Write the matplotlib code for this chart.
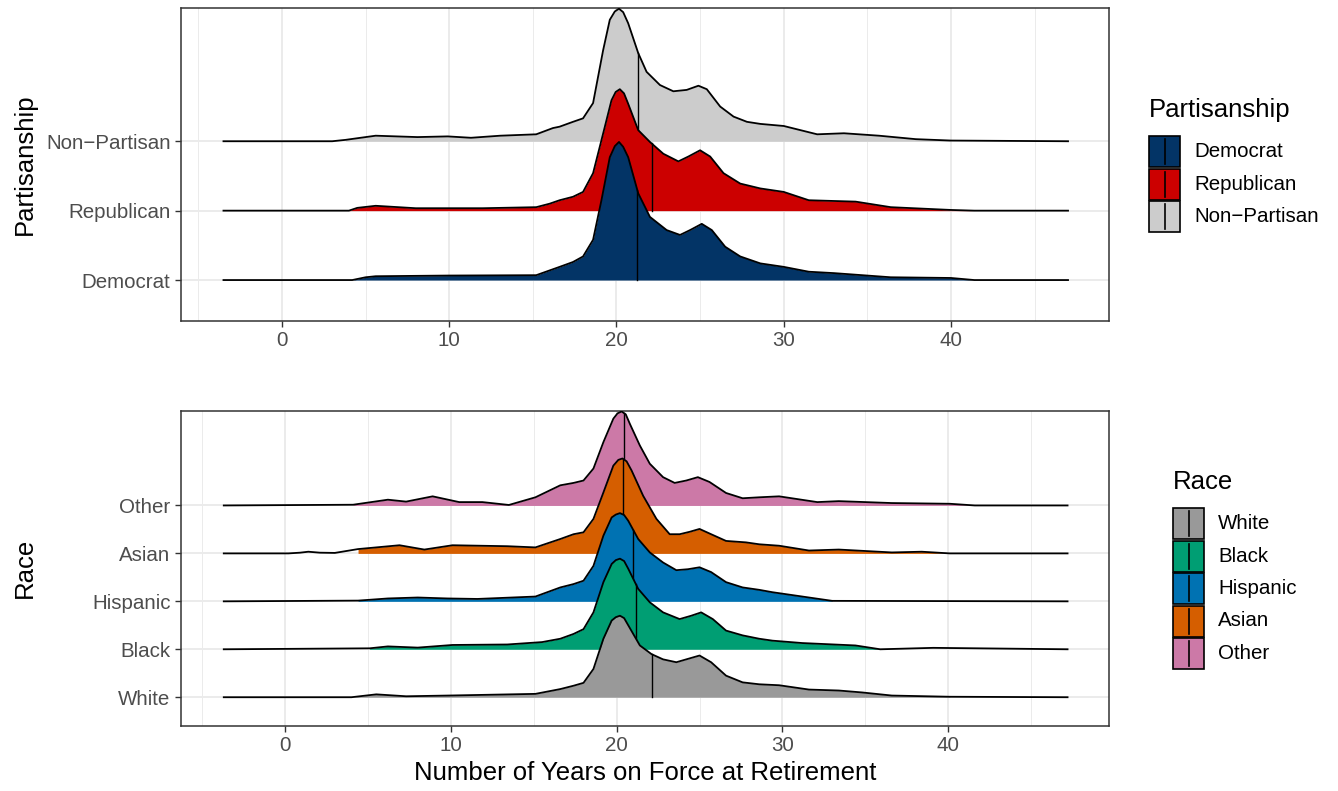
import matplotlib
matplotlib.use("Agg")
import matplotlib.pyplot as plt
from matplotlib.patches import Rectangle
from matplotlib.lines import Line2D
import numpy as np

plt.rcParams["font.family"] = ["Liberation Sans", "DejaVu Sans"]

# ---- data: density heights (in row units) ----
party_names = ["Democrat", "Republican", "Non\u2212Partisan"]
party_colors = ["#033466", "#CC0000", "#CCCCCC"]

dem_x = [-3.5, 4.2, 5.0, 5.6, 10, 15.2, 15.9, 16.6, 17.4, 18.0, 18.6, 19.1, 19.6,
         19.9, 20.15, 20.4, 20.7, 21.3, 22.0, 23.0, 23.8, 24.4, 25.1, 25.7, 26.5,
         27.4, 28.6, 30.0, 31.5, 33, 34.7, 36.4, 40.0, 41.4, 47.0]
dem_h = [0, 0, 0.04, 0.055, 0.065, 0.07, 0.13, 0.19, 0.26, 0.34, 0.58, 1.15, 1.77,
         1.93, 1.99, 1.92, 1.77, 1.25, 0.91, 0.72, 0.65, 0.72, 0.81, 0.72, 0.48,
         0.34, 0.24, 0.19, 0.12, 0.1, 0.07, 0.04, 0.03, 0, 0]

rep_x = [-3.5, 4.0, 4.5, 5.6, 8, 12, 15.2, 16.0, 16.6, 17.4, 18.0, 18.6, 19.2, 19.7,
         19.95, 20.2, 20.45, 20.7, 21.3, 22.0, 22.8, 23.7, 24.3, 25.0, 25.6, 26.4,
         27.4, 28.6, 30.0, 31.5, 34.3, 36.4, 40.0, 41.4, 47.0]
rep_h = [0, 0, 0.04, 0.07, 0.035, 0.035, 0.05, 0.1, 0.15, 0.2, 0.27, 0.54, 1.11, 1.59,
         1.71, 1.75, 1.69, 1.54, 1.16, 0.99, 0.82, 0.71, 0.78, 0.87, 0.78, 0.54,
         0.39, 0.32, 0.27, 0.15, 0.13, 0.05, 0.01, 0, 0]

np_x = [-3.5, 3.0, 3.8, 5.6, 8.1, 9.9, 11.3, 13.05, 15.2, 16.2, 16.6, 17.4, 18.0,
        18.6, 19.2, 19.6, 19.9, 20.15, 20.4, 20.7, 21.3, 21.8, 22.6, 23.4, 24.2,
        24.9, 25.4, 26.2, 27.0, 27.8, 28.6, 30.0, 32.0, 33.6, 35.7, 37.9, 40.0, 47.0]
np_h = [0, 0, 0.02, 0.08, 0.06, 0.07, 0.05, 0.08, 0.1, 0.19, 0.21, 0.28, 0.33,
        0.55, 1.31, 1.75, 1.87, 1.91, 1.86, 1.70, 1.27, 1.0, 0.81, 0.72, 0.74,
        0.80, 0.75, 0.5, 0.355, 0.28, 0.25, 0.22, 0.1, 0.115, 0.08, 0.03, 0.01, 0]

party_x = [dem_x, rep_x, np_x]
party_h = [dem_h, rep_h, np_h]
party_median = [21.25, 22.1, 21.3]
party_fill = [(4.2, 41.4), (4.0, 41.4), (3.8, 40.0)]

race_names = ["White", "Black", "Hispanic", "Asian", "Other"]
race_colors = ["#999999", "#009E73", "#0072B2", "#D55E00", "#CC79A7"]

white_x = [-3.7, 4.0, 5.5, 7.3, 9.8, 15.1, 16.6, 17.4, 18.0, 18.6, 19.2, 19.7, 19.95,
           20.2, 20.45, 20.7, 21.4, 22.1, 22.8, 23.6, 24.3, 25.0, 25.7, 26.6, 27.6,
           28.6, 29.8, 31.6, 33.4, 34.8, 36.6, 40.1, 47.2]
white_h = [0, 0, 0.06, 0.02, 0.035, 0.07, 0.17, 0.24, 0.30, 0.59, 1.22, 1.60, 1.67,
           1.70, 1.65, 1.50, 1.08, 0.90, 0.79, 0.73, 0.80, 0.87, 0.73, 0.45, 0.31,
           0.27, 0.25, 0.16, 0.14, 0.1, 0.035, 0.01, 0]

black_x = [-3.7, 5.1, 6.2, 8.0, 10.1, 13.4, 15.5, 16.6, 17.4, 18.0, 18.6, 19.2, 19.7,
           19.95, 20.2, 20.45, 20.7, 21.3, 22.0, 22.8, 23.8, 24.5, 25.1, 25.8, 26.6,
           27.6, 28.6, 29.4, 31.2, 34.4, 35.9, 39.1, 47.2]
black_h = [0, 0.02, 0.06, 0.035, 0.09, 0.1, 0.15, 0.22, 0.32, 0.42, 0.77, 1.40, 1.78,
           1.86, 1.89, 1.84, 1.68, 1.26, 0.98, 0.77, 0.63, 0.70, 0.77, 0.63, 0.39,
           0.29, 0.22, 0.18, 0.13, 0.08, 0.0, 0.03, 0]

hisp_x = [-3.7, 4.4, 6.2, 8.0, 9.8, 11.6, 15.1, 16.6, 17.4, 18.0, 18.6, 19.2, 19.7,
          19.95, 20.2, 20.45, 20.7, 21.3, 22.0, 22.8, 23.6, 24.3, 25.0, 25.7, 26.6,
          27.6, 28.6, 29.4, 31.6, 33.0, 47.2]
hisp_h = [0, 0.015, 0.06, 0.08, 0.06, 0.05, 0.1, 0.29, 0.36, 0.43, 0.74, 1.37, 1.75,
          1.81, 1.84, 1.80, 1.68, 1.30, 1.02, 0.81, 0.65, 0.67, 0.71, 0.61, 0.40,
          0.29, 0.24, 0.19, 0.08, 0.01, 0]

asian_x = [-3.7, 0.2, 0.9, 1.4, 2.1, 3.0, 4.4, 6.9, 8.4, 10.1, 13.4, 15.1, 16.6, 17.4,
           18.0, 18.6, 19.2, 19.8, 20.1, 20.35, 20.6, 20.9, 21.6, 22.4, 23.2, 23.8,
           24.4, 25.0, 25.7, 26.6, 27.8, 28.6, 29.8, 31.6, 33.4, 36.6, 38.4, 40.1, 47.2]
asian_h = [0, 0, 0.015, 0.035, 0.015, 0.01, 0.09, 0.17, 0.08, 0.17, 0.15, 0.125, 0.30,
           0.40, 0.44, 0.72, 1.27, 1.83, 1.95, 1.98, 1.92, 1.73, 1.2, 0.72, 0.40, 0.40,
           0.45, 0.51, 0.40, 0.26, 0.23, 0.19, 0.16, 0.06, 0.08, 0.02, 0.035, 0, 0]

other_x = [-3.7, 4.1, 6.2, 7.3, 8.9, 10.5, 11.9, 13.5, 15.1, 16.6, 17.4, 18.0, 18.6,
           19.2, 19.8, 20.05, 20.3, 20.55, 20.8, 21.4, 22.0, 22.8, 23.5, 24.2, 24.9,
           25.6, 26.6, 27.6, 28.6, 29.8, 32.1, 33.4, 36.6, 40.1, 41.6, 47.2]
other_h = [0, 0.015, 0.12, 0.08, 0.19, 0.07, 0.07, 0.01, 0.17, 0.42, 0.47, 0.52, 0.77,
           1.32, 1.81, 1.92, 1.96, 1.9, 1.70, 1.25, 0.87, 0.59, 0.47, 0.52, 0.59,
           0.49, 0.26, 0.15, 0.17, 0.19, 0.07, 0.09, 0.05, 0.035, 0, 0]

race_x = [white_x, black_x, hisp_x, asian_x, other_x]
race_h = [white_h, black_h, hisp_h, asian_h, other_h]
race_median = [22.15, 21.15, 21.0, 20.4, 20.45]
race_fill = [(4.0, 40.1), (5.1, 35.9), (4.4, 33.0), (4.4, 40.1), (4.1, 41.6)]

x_ticks = [0, 10, 20, 30, 40]

TICK_COL = "#4D4D4D"
BORDER = "#333333"
GRID = "#EBEBEB"


def ridges(ax, xs, hs, colors, medians, fills, names, xlim, ylim):
    ax.set_xlim(*xlim)
    ax.set_ylim(*ylim)
    # grid (theme_bw look)
    for v in np.arange(-5, 50, 5):
        ax.axvline(v, color=GRID, lw=1.4 if v % 10 == 0 else 0.7, zorder=0)
    for i in range(len(names)):
        ax.axhline(i + 1, color=GRID, lw=1.4, zorder=0)
    n = len(names)
    for i in range(n):
        x = np.array(xs[i])
        h = np.array(hs[i])
        base = i + 1
        z = 10 + 3 * (n - i)
        lo, hi = fills[i]
        m = (x >= lo) & (x <= hi)
        ax.fill_between(x, base, base + h, where=m, color=colors[i], lw=0, zorder=z)
        ax.plot(x, base + h, color="black", lw=1.3, zorder=z + 1,
                solid_joinstyle="round")
        med_h = np.interp(medians[i], x, h)
        ax.plot([medians[i], medians[i]], [base, base + med_h], color="black",
                lw=1.0, zorder=z + 1)
    ax.set_yticks(range(1, n + 1))
    ax.set_yticklabels(names)
    ax.set_xticks(x_ticks)
    ax.tick_params(axis="both", colors=BORDER, labelcolor=TICK_COL, labelsize=14.8,
                   length=4, width=1.0)
    for s in ax.spines.values():
        s.set_color(BORDER)
        s.set_linewidth(1.1)


def legend(fig, x0, y_title, title, names, colors, key_w=31, key_h=31):
    W, H = fig.get_size_inches() * fig.dpi
    fig.text(x0 / W, 1 - y_title / H, title, fontsize=18.5, va="center", ha="left")
    y = y_title + 26
    for name, c in zip(names, colors):
        fig.add_artist(Rectangle((x0 / W, 1 - (y + key_h) / H), key_w / W, key_h / H,
                                 transform=fig.transFigure, facecolor=c,
                                 edgecolor="black", lw=1.2))
        fig.add_artist(Line2D([(x0 + key_w / 2) / W] * 2,
                              [1 - (y + 3) / H, 1 - (y + key_h - 3) / H],
                              transform=fig.transFigure, color="black", lw=1.2))
        fig.text((x0 + key_w + 14) / W, 1 - (y + key_h / 2) / H, name,
                 fontsize=14.8, va="center", ha="left")
        y += key_h + 1.5


W, H = 1338, 791
fig = plt.figure(figsize=(W / 100, H / 100), dpi=100)

ax1 = fig.add_axes([181 / W, 1 - 321 / H, 928 / W, 313 / H])
ridges(ax1, party_x, party_h, party_colors, party_median, party_fill, party_names,
       (-6.04, 49.45), (0.41, 4.92))
fig.text(25 / W, 1 - 164 / H, "Partisanship", fontsize=18.5, rotation=90,
         ha="center", va="center")

ax2 = fig.add_axes([181 / W, 1 - 726 / H, 928 / W, 315 / H])
ridges(ax2, race_x, race_h, race_colors, race_median, race_fill, race_names,
       (-6.28, 49.7), (0.4, 6.97))
fig.text(25 / W, 1 - 568 / H, "Race", fontsize=18.5, rotation=90,
         ha="center", va="center")
ax2.set_xlabel("Number of Years on Force at Retirement", fontsize=18.5, labelpad=4)

legend(fig, 1149, 110, "Partisanship", party_names, party_colors)
legend(fig, 1173, 482, "Race", race_names, race_colors)

fig.savefig("out.png", dpi=100)
